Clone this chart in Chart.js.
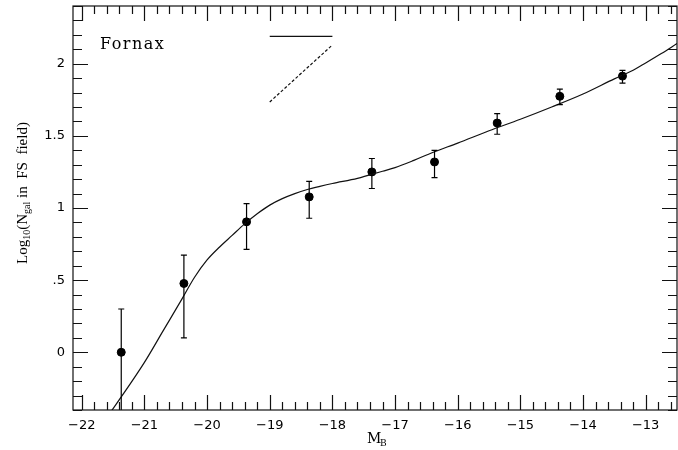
<!DOCTYPE html>
<html>
<head>
<meta charset="utf-8">
<script src="https://cdn.jsdelivr.net/npm/chart.js@4.4.0/dist/chart.umd.min.js"></script>
<style>
  body { margin: 0; background: #fff; }
</style>
</head>
<body>
<canvas id="lfChart" width="678" height="450"></canvas>
<script>
// binned counts with error bars
const magB  = [-21.37, -20.37, -19.37, -18.37, -17.37, -16.37, -15.37, -14.37, -13.37];
const logN  = [0.0, 0.477, 0.904, 1.077, 1.25, 1.319, 1.589, 1.774, 1.914];
const errHi = [0.30, 0.673, 1.031, 1.185, 1.343, 1.40, 1.654, 1.824, 1.954];
const errLo = [-0.9, 0.10, 0.713, 0.929, 1.135, 1.211, 1.511, 1.716, 1.866];

// fitted model curve
const modelMag  = [-21.6, -21.5, -21.0, -20.7, -20.4, -20.2, -20.0, -19.8, -19.6, -19.4, -19.2, -19.0, -18.8, -18.6, -18.4, -18.2, -18.0, -17.6, -17.2, -17.0, -16.7, -16.4, -16.0, -15.5, -15.0, -14.5, -14.0, -13.5, -13.2, -13.0, -12.75, -12.5];
const modelLogN = [-0.45, -0.39, -0.07, 0.15, 0.37, 0.52, 0.64, 0.73, 0.81, 0.89, 0.96, 1.02, 1.065, 1.10, 1.128, 1.15, 1.17, 1.205, 1.255, 1.28, 1.33, 1.385, 1.45, 1.535, 1.615, 1.70, 1.79, 1.895, 1.955, 2.005, 2.07, 2.14];

// key lines at top
const keySolidX = [-19, -18];
const keySolidY = [2.19, 2.19];
const keyDashX  = [-19, -18];
const keyDashY  = [1.735, 2.13];

const xTicks = [-22, -21, -20, -19, -18, -17, -16, -15, -14, -13];
const xTickLabels = ['\u221222', '\u221221', '\u221220', '\u221219', '\u221218', '\u221217', '\u221216', '\u221215', '\u221214', '\u221213'];
const yTicks = [0, 0.5, 1, 1.5, 2];
const yTickLabels = ['0', '.5', '1', '1.5', '2'];

const fornaxAt = [-21.71, 2.10];

const toXY = (xs, ys) => xs.map((x, i) => ({ x: x, y: ys[i] }));

const errorBars = {
  id: 'errorBars',
  afterDatasetsDraw(chart) {
    const { ctx, chartArea, scales } = chart;
    ctx.save();
    ctx.beginPath();
    ctx.rect(chartArea.left, chartArea.top, chartArea.right - chartArea.left, chartArea.bottom - chartArea.top);
    ctx.clip();
    ctx.strokeStyle = '#000';
    ctx.lineWidth = 1.2;
    magB.forEach((m, i) => {
      const px = scales.x.getPixelForValue(m);
      const hi = scales.y.getPixelForValue(errHi[i]);
      const lo = scales.y.getPixelForValue(errLo[i]);
      ctx.beginPath();
      ctx.moveTo(px, hi); ctx.lineTo(px, lo);
      ctx.moveTo(px - 3, hi); ctx.lineTo(px + 3, hi);
      ctx.moveTo(px - 3, lo); ctx.lineTo(px + 3, lo);
      ctx.stroke();
    });
    ctx.restore();
  }
};

const frameTicks = {
  id: 'frameTicks',
  afterDraw(chart) {
    const { ctx, chartArea: a, scales } = chart;
    const xs = scales.x, ys = scales.y;
    ctx.save();
    ctx.strokeStyle = '#111';
    ctx.lineWidth = 1.2;
    ctx.strokeRect(a.left, a.top, a.right - a.left, a.bottom - a.top);
    ctx.beginPath();
    for (let k = Math.ceil(xs.min * 5); k <= Math.floor(xs.max * 5); k++) {
      const px = Math.round(xs.getPixelForValue(k / 5)) + 0.5;
      const len = (k % 5 === 0) ? 15 : 8;
      ctx.moveTo(px, a.bottom); ctx.lineTo(px, a.bottom - len);
      ctx.moveTo(px, a.top); ctx.lineTo(px, a.top + len);
    }
    for (let k = Math.ceil(ys.min * 10); k <= Math.floor(ys.max * 10); k++) {
      const py = Math.round(ys.getPixelForValue(k / 10)) + 0.5;
      const len = (k % 5 === 0) ? 15 : 9;
      ctx.moveTo(a.left, py); ctx.lineTo(a.left + len, py);
      ctx.moveTo(a.right, py); ctx.lineTo(a.right - len, py);
    }
    ctx.stroke();

    // Fornax label
    ctx.fillStyle = '#000';
    ctx.font = '16px "DejaVu Serif"';
    ctx.letterSpacing = '1.5px';
    ctx.textBaseline = 'alphabetic';
    ctx.fillText('Fornax', xs.getPixelForValue(fornaxAt[0]), ys.getPixelForValue(fornaxAt[1]));

    // x title M_B
    ctx.letterSpacing = '0px';
    ctx.font = '14px "DejaVu Serif"';
    ctx.fillText('M', 367, 443);
    ctx.font = '9px "DejaVu Serif"';
    ctx.fillText('B', 380, 446);

    // y title, rotated
    const parts = [['Log', false], ['10', true], ['(N', false], ['gal', true], [' in  FS  field)', false]];
    ctx.translate(27, 193);
    ctx.rotate(-Math.PI / 2);
    ctx.letterSpacing = '0px';
    const fontOf = (sub) => sub ? '10px "Liberation Serif"' : '15px "Liberation Serif"';
    let total = 0;
    parts.forEach(p => { ctx.font = fontOf(p[1]); total += ctx.measureText(p[0]).width; });
    let cx = -total / 2;
    parts.forEach(p => {
      ctx.font = fontOf(p[1]);
      ctx.fillText(p[0], cx, p[1] ? 3 : 0);
      cx += ctx.measureText(p[0]).width;
    });
    ctx.restore();
  }
};

new Chart(document.getElementById('lfChart').getContext('2d'), {
  type: 'scatter',
  data: {
    datasets: [
      {
        label: 'model',
        data: toXY(modelMag, modelLogN),
        showLine: true,
        borderColor: '#111',
        borderWidth: 1.2,
        pointRadius: 0,
        cubicInterpolationMode: 'monotone'
      },
      {
        label: 'Fornax',
        data: toXY(magB, logN),
        backgroundColor: '#000',
        borderColor: '#000',
        pointRadius: 4
      },
      {
        label: 'key solid',
        data: toXY(keySolidX, keySolidY),
        showLine: true,
        borderColor: '#111',
        borderWidth: 1.2,
        pointRadius: 0
      },
      {
        label: 'key dashed',
        data: toXY(keyDashX, keyDashY),
        showLine: true,
        borderColor: '#111',
        borderWidth: 1.2,
        borderDash: [3, 2],
        pointRadius: 0
      }
    ]
  },
  options: {
    responsive: false,
    animation: false,
    layout: { autoPadding: false, padding: { left: 0, top: 6, right: 1, bottom: 0 } },
    plugins: {
      legend: { display: false },
      tooltip: { enabled: false }
    },
    scales: {
      x: {
        type: 'linear',
        min: -22.14,
        max: -12.5,
        grid: { display: false, drawTicks: false },
        border: { display: false },
        afterBuildTicks: (scale) => { scale.ticks = xTicks.map(v => ({ value: v })); },
        afterFit: (scale) => { scale.height = 40; scale.paddingLeft = 0; scale.paddingRight = 0; },
        ticks: {
          padding: 8,
          color: '#000',
          font: { family: 'DejaVu Sans', size: 13 },
          maxRotation: 0,
          autoSkip: false,
          callback: (v) => xTickLabels[xTicks.indexOf(v)]
        }
      },
      y: {
        type: 'linear',
        min: -0.4,
        max: 2.4,
        grid: { display: false, drawTicks: false },
        border: { display: false },
        afterBuildTicks: (scale) => { scale.ticks = yTicks.map(v => ({ value: v })); },
        afterFit: (scale) => { scale.width = 73; scale.paddingTop = 0; scale.paddingBottom = 0; },
        ticks: {
          padding: 8,
          color: '#000',
          font: { family: 'DejaVu Sans', size: 13 },
          autoSkip: false,
          callback: (v) => yTickLabels[yTicks.indexOf(v)]
        }
      }
    }
  },
  plugins: [errorBars, frameTicks]
});
</script>
</body>
</html>
